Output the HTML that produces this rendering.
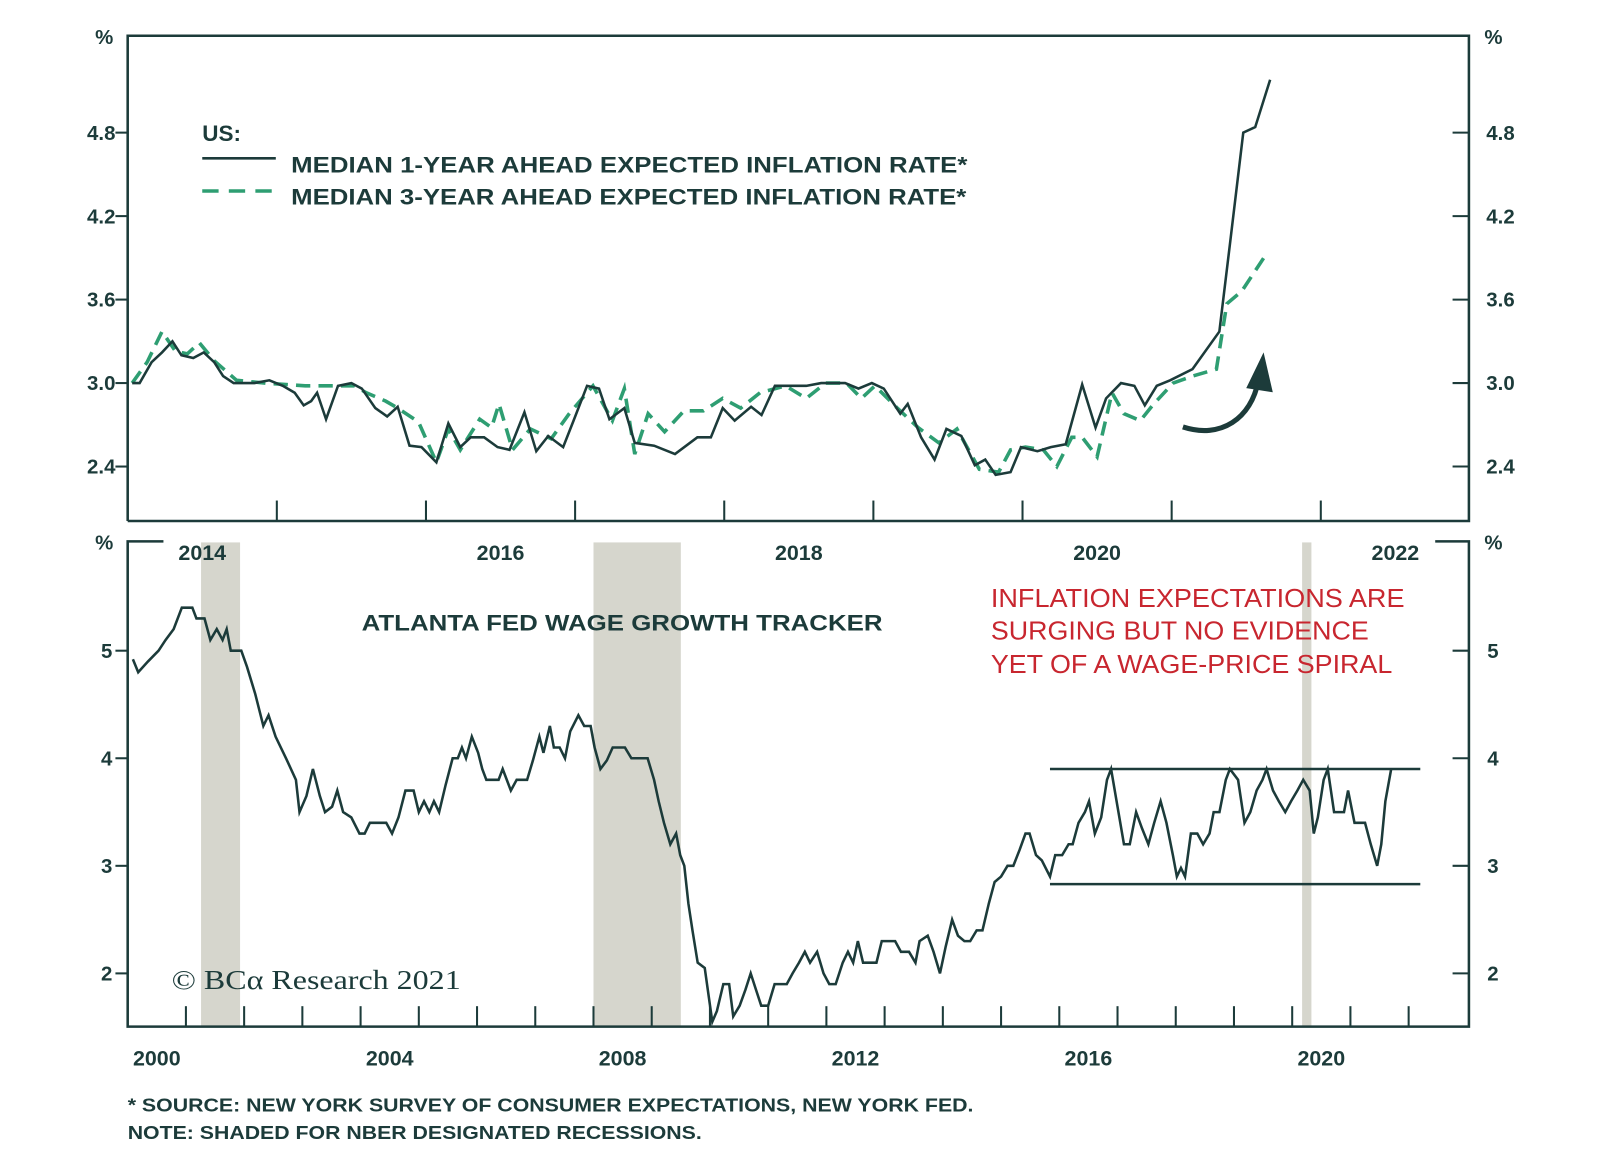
<!DOCTYPE html>
<html><head><meta charset="utf-8"><style>
html,body{margin:0;padding:0;background:#fff;}
svg{display:block;font-family:"Liberation Sans",Arial,sans-serif;font-weight:bold;}
</style></head><body>
<svg id="chart" width="1600" height="1174" viewBox="0 0 1600 1174" xmlns="http://www.w3.org/2000/svg">
<g transform="scale(1.0215)">
<g id="botg"></g>
<g id="topg"></g>
<g id="anng"></g>
</g>
</svg>
<script>
// ---- Top panel data ----
const oneYrDates=[2014.03,2014.08,2014.16,2014.23,2014.30,2014.36,2014.44,2014.51,2014.58,2014.64,2014.71,2014.85,2014.95,2015.04,2015.12,2015.18,2015.23,2015.27,2015.33,2015.41,2015.50,2015.57,2015.66,2015.74,2015.81,2015.89,2015.97,2016.07,2016.15,2016.23,2016.30,2016.39,2016.48,2016.56,2016.66,2016.74,2016.82,2016.92,2016.99,2017.08,2017.16,2017.23,2017.33,2017.40,2017.53,2017.67,2017.82,2017.91,2017.99,2018.07,2018.18,2018.25,2018.34,2018.45,2018.55,2018.65,2018.81,2018.90,2018.99,2019.07,2019.18,2019.23,2019.32,2019.41,2019.49,2019.59,2019.68,2019.75,2019.82,2019.92,2019.99,2020.10,2020.19,2020.29,2020.40,2020.49,2020.56,2020.66,2020.75,2020.82,2020.90,2020.99,2021.14,2021.32,2021.39,2021.48,2021.56,2021.66];
const oneYrValues=[3.0,3.0,3.15,3.22,3.3,3.2,3.18,3.22,3.15,3.05,3.0,3.0,3.02,2.98,2.93,2.84,2.87,2.93,2.74,2.98,3.0,2.96,2.82,2.76,2.83,2.55,2.54,2.43,2.71,2.54,2.61,2.61,2.54,2.52,2.79,2.51,2.62,2.54,2.73,2.98,2.96,2.74,2.82,2.57,2.55,2.49,2.61,2.61,2.82,2.73,2.83,2.77,2.98,2.98,2.98,3.0,3.0,2.96,3.0,2.96,2.78,2.85,2.61,2.45,2.67,2.62,2.41,2.45,2.34,2.36,2.54,2.51,2.54,2.56,2.99,2.68,2.89,3.0,2.98,2.84,2.98,3.02,3.1,3.37,3.99,4.8,4.84,5.18];
const threeYrDates=[2014.03,2014.13,2014.23,2014.32,2014.40,2014.48,2014.58,2014.73,2014.92,2015.19,2015.32,2015.52,2015.60,2015.73,2015.81,2015.95,2016.07,2016.15,2016.23,2016.36,2016.44,2016.49,2016.58,2016.70,2016.84,2016.96,2017.12,2017.25,2017.33,2017.40,2017.49,2017.60,2017.73,2017.86,2017.99,2018.11,2018.24,2018.41,2018.55,2018.68,2018.82,2018.92,2019.01,2019.16,2019.30,2019.44,2019.56,2019.71,2019.84,2019.92,2020.02,2020.14,2020.23,2020.33,2020.40,2020.50,2020.60,2020.68,2020.79,2020.88,2021.01,2021.14,2021.30,2021.37,2021.47,2021.55,2021.63];
const threeYrValues=[3.0,3.15,3.37,3.23,3.21,3.29,3.16,3.02,3.0,2.98,2.98,2.98,2.93,2.87,2.82,2.72,2.43,2.67,2.52,2.74,2.68,2.85,2.52,2.67,2.6,2.78,2.98,2.73,2.96,2.49,2.78,2.65,2.8,2.8,2.89,2.82,2.93,2.98,2.89,3.0,3.0,2.89,2.98,2.82,2.68,2.57,2.67,2.38,2.36,2.52,2.54,2.52,2.4,2.61,2.61,2.47,2.93,2.78,2.73,2.85,3.0,3.05,3.1,3.57,3.66,3.79,3.92];
const topYTicks=[2.4,3.0,3.6,4.2,4.8];
const topYLabels=["2.4","3.0","3.6","4.2","4.8"];
const topXLabels=["2014","2016","2018","2020","2022"];
// ---- Bottom panel data ----
const wageDates=[2000.09,2000.18,2000.35,2000.53,2000.65,2000.79,2000.93,2001.11,2001.18,2001.32,2001.42,2001.53,2001.63,2001.70,2001.77,2001.95,2002.05,2002.19,2002.33,2002.42,2002.54,2002.72,2002.89,2002.95,2003.07,2003.18,2003.30,2003.39,2003.51,2003.60,2003.70,2003.84,2003.98,2004.07,2004.16,2004.44,2004.54,2004.65,2004.77,2004.91,2005.00,2005.09,2005.18,2005.26,2005.35,2005.46,2005.58,2005.67,2005.74,2005.81,2005.91,2006.02,2006.09,2006.16,2006.37,2006.44,2006.58,2006.68,2006.86,2006.96,2007.07,2007.14,2007.25,2007.32,2007.42,2007.51,2007.60,2007.74,2007.84,2007.95,2008.02,2008.12,2008.23,2008.33,2008.54,2008.65,2008.93,2009.04,2009.12,2009.21,2009.32,2009.42,2009.49,2009.56,2009.63,2009.70,2009.79,2009.91,2010.04,2010.12,2010.23,2010.33,2010.40,2010.51,2010.61,2010.70,2010.79,2010.88,2011.00,2011.11,2011.32,2011.42,2011.53,2011.63,2011.72,2011.84,2011.95,2012.05,2012.16,2012.28,2012.37,2012.46,2012.54,2012.63,2012.86,2012.95,2013.18,2013.28,2013.42,2013.53,2013.60,2013.74,2013.84,2013.95,2014.05,2014.16,2014.26,2014.37,2014.47,2014.58,2014.68,2014.79,2014.89,2015.00,2015.11,2015.21,2015.32,2015.42,2015.49,2015.60,2015.70,2015.84,2015.93,2016.05,2016.16,2016.23,2016.33,2016.44,2016.51,2016.61,2016.72,2016.82,2016.89,2017.00,2017.11,2017.21,2017.32,2017.42,2017.53,2017.63,2017.74,2017.84,2017.95,2018.02,2018.09,2018.16,2018.26,2018.37,2018.47,2018.58,2018.65,2018.75,2018.86,2018.93,2019.07,2019.18,2019.28,2019.39,2019.49,2019.56,2019.67,2019.77,2019.88,2019.98,2020.09,2020.19,2020.30,2020.37,2020.44,2020.54,2020.61,2020.72,2020.89,2020.96,2021.07,2021.25,2021.35,2021.46,2021.53,2021.60,2021.70];
const wageValues=[4.92,4.8,4.9,5.0,5.1,5.2,5.4,5.4,5.3,5.3,5.1,5.2,5.1,5.2,5.0,5.0,4.85,4.6,4.3,4.4,4.2,4.0,3.8,3.5,3.65,3.9,3.65,3.5,3.55,3.7,3.5,3.45,3.3,3.3,3.4,3.4,3.3,3.45,3.7,3.7,3.5,3.6,3.5,3.6,3.5,3.75,4.0,4.0,4.1,4.0,4.2,4.05,3.9,3.8,3.8,3.9,3.7,3.8,3.8,3.98,4.2,4.05,4.3,4.1,4.1,4.0,4.25,4.4,4.3,4.3,4.1,3.9,3.98,4.1,4.1,4.0,4.0,3.8,3.6,3.4,3.2,3.3,3.1,3.0,2.65,2.4,2.1,2.05,1.55,1.65,1.9,1.9,1.6,1.7,1.85,2.0,1.85,1.7,1.7,1.9,1.9,2.0,2.1,2.2,2.1,2.2,2.0,1.9,1.9,2.1,2.2,2.1,2.3,2.1,2.1,2.3,2.3,2.2,2.2,2.1,2.3,2.35,2.2,2.0,2.25,2.5,2.35,2.3,2.3,2.4,2.4,2.65,2.85,2.9,3.0,3.0,3.15,3.3,3.3,3.1,3.05,2.9,3.1,3.1,3.2,3.2,3.4,3.5,3.6,3.3,3.45,3.8,3.9,3.55,3.2,3.2,3.5,3.35,3.2,3.4,3.6,3.4,3.1,2.9,2.98,2.9,3.3,3.3,3.2,3.3,3.5,3.5,3.8,3.9,3.8,3.4,3.5,3.7,3.8,3.9,3.7,3.6,3.5,3.6,3.7,3.8,3.7,3.3,3.45,3.8,3.9,3.5,3.5,3.7,3.4,3.4,3.2,3.0,3.2,3.6,3.9];
const botYTicks=[2,3,4,5];
const botYLabels=["2","3","4","5"];
const botXLabels=["2000","2004","2008","2012","2016","2020"];
const recessionStarts=[2001.26,2008.0,2020.17];
const recessionEnds=[2001.93,2009.5,2020.33];
const rangeHigh=3.9, rangeLow=2.83, rangeStart=2015.84, rangeEnd=2022.2;

const NS="http://www.w3.org/2000/svg";
const C="#1c3b3a", G="#2e9e72";
function mk(parent,tag,attrs){const e=document.createElementNS(NS,tag);for(const k in attrs)e.setAttribute(k,attrs[k]);parent.appendChild(e);return e;}
const L=125,R=1438;
const tx=y=>L+(y-2014)*146, ty=v=>375-(v-3.0)*136.2;
const bx=y=>L+(y-2000)*57, by=v=>637-(v-5)*105.3;

const topG=document.getElementById('topg'), botG=document.getElementById('botg'), annG=document.getElementById('anng');

for(let i=0;i<recessionStarts.length;i++){
  const r=mk(botG,'rect',{x:bx(recessionStarts[i]),y:531,width:bx(recessionEnds[i])-bx(recessionStarts[i]),height:474,fill:"#d6d6cd"});
  
  
}

let f=mk(topG,'path',{d:`M${L},510 V35 H${R} V510 H${L}`,fill:"none",stroke:C,"stroke-width":2.5});


topYTicks.forEach((v,i)=>{
  const y=ty(v);
  let t=mk(topG,'line',{x1:L-12,x2:L,y1:y,y2:y,stroke:C,"stroke-width":2});
  
  
  t=mk(topG,'line',{x1:R-16,x2:R,y1:y,y2:y,stroke:C,"stroke-width":2});
  
  
  let l=mk(topG,'text',{x:113,y:y+7,"text-anchor":"end","font-size":20,fill:C});l.textContent=topYLabels[i];
  
  
  l=mk(topG,'text',{x:1455,y:y+7,"font-size":20,fill:C});l.textContent=topYLabels[i];
  
  
});
for(let yr=2015;yr<=2022;yr++){
  const t=mk(topG,'line',{x1:tx(yr),x2:tx(yr),y1:490,y2:510,stroke:C,"stroke-width":2});
  
  
}
topXLabels.forEach(s=>{
  const l=mk(topG,'text',{x:tx(+s+0.5),y:548,"text-anchor":"middle","font-size":21,fill:C});l.textContent=s;
  
  
});
let p=mk(topG,'text',{x:102,y:43,"text-anchor":"middle","font-size":20,fill:C});p.textContent="%";


p=mk(topG,'text',{x:1462,y:43,"text-anchor":"middle","font-size":20,fill:C});p.textContent="%";



let d3=threeYrDates.map((d,i)=>(i?'L':'M')+tx(d).toFixed(1)+','+ty(threeYrValues[i]).toFixed(1)).join('');
let s=mk(topG,'path',{d:d3,fill:"none",stroke:G,"stroke-width":3.5,"stroke-dasharray":"14,8"});


let d1=oneYrDates.map((d,i)=>(i?'L':'M')+tx(d).toFixed(1)+','+ty(oneYrValues[i]).toFixed(1)).join('');
s=mk(topG,'path',{d:d1,fill:"none",stroke:C,"stroke-width":2.5});



let lg=mk(topG,'g',{});


let t=mk(lg,'text',{x:198,y:138,"font-size":22,fill:C});t.textContent="US:";


t=mk(lg,'line',{x1:198,x2:270,y1:155,y2:155,stroke:C,"stroke-width":2.5});


t=mk(lg,'text',{x:285,y:169,"font-size":22,fill:C,textLength:662,lengthAdjust:"spacingAndGlyphs"});t.textContent="MEDIAN 1-YEAR AHEAD EXPECTED INFLATION RATE*";


t=mk(lg,'line',{x1:198,x2:272,y1:187,y2:187,stroke:G,"stroke-width":3.5,"stroke-dasharray":"16,10"});


t=mk(lg,'text',{x:285,y:200,"font-size":22,fill:C,textLength:661,lengthAdjust:"spacingAndGlyphs"});t.textContent="MEDIAN 3-YEAR AHEAD EXPECTED INFLATION RATE*";



t=mk(annG,'path',{d:"M1158,418 C1195,430 1225,410 1232,372",fill:"none",stroke:C,"stroke-width":5});


t=mk(annG,'path',{d:"M1220,380 L1237,345 L1246,384 Z",fill:C});



f=mk(botG,'path',{d:`M160,530 H${L} V1005 H${R} V530 H1405`,fill:"none",stroke:C,"stroke-width":2.5});


botYTicks.forEach((v,i)=>{
  const y=by(v);
  let tk=mk(botG,'line',{x1:L-12,x2:L,y1:y,y2:y,stroke:C,"stroke-width":2});
  
  
  tk=mk(botG,'line',{x1:R-16,x2:R,y1:y,y2:y,stroke:C,"stroke-width":2});
  
  
  let l=mk(botG,'text',{x:110,y:y+7,"text-anchor":"end","font-size":20,fill:C});l.textContent=botYLabels[i];
  
  
  l=mk(botG,'text',{x:1456,y:y+7,"font-size":20,fill:C});l.textContent=botYLabels[i];
  
  
});
for(let yr=2001;yr<=2022;yr++){
  const tk=mk(botG,'line',{x1:bx(yr),x2:bx(yr),y1:985,y2:1005,stroke:C,"stroke-width":2});
  
  
}
botXLabels.forEach(sv=>{
  const l=mk(botG,'text',{x:bx(+sv+0.5),y:1043,"text-anchor":"middle","font-size":21,fill:C});l.textContent=sv;
  
  
});
p=mk(botG,'text',{x:102,y:538,"text-anchor":"middle","font-size":20,fill:C});p.textContent="%";


p=mk(botG,'text',{x:1462,y:538,"text-anchor":"middle","font-size":20,fill:C});p.textContent="%";



[rangeHigh,rangeLow].forEach(v=>{
  const ln=mk(botG,'line',{x1:bx(rangeStart),x2:bx(rangeEnd),y1:by(v),y2:by(v),stroke:C,"stroke-width":2.5});
  
  
});
let dw=wageDates.map((d,i)=>(i?'L':'M')+bx(d).toFixed(1)+','+by(wageValues[i]).toFixed(1)).join('');
s=mk(botG,'path',{d:dw,fill:"none",stroke:C,"stroke-width":2.5});



t=mk(botG,'text',{x:354,y:617,"font-size":22,fill:C,textLength:510,lengthAdjust:"spacingAndGlyphs"});t.textContent="ATLANTA FED WAGE GROWTH TRACKER";


[["INFLATION EXPECTATIONS ARE",594,405],["SURGING BUT NO EVIDENCE",626,370],["YET OF A WAGE-PRICE SPIRAL",659,393]].forEach(a=>{
  const x=mk(annG,'text',{x:970,y:a[1],"font-size":25,"font-weight":"normal",fill:"#c8262f",textLength:a[2],lengthAdjust:"spacingAndGlyphs"});x.textContent=a[0];
  
  
});
t=mk(annG,'text',{x:168,y:968,"font-size":27,"font-weight":"normal","font-family":"Liberation Serif,serif",fill:C,textLength:283,lengthAdjust:"spacingAndGlyphs"});t.textContent="© BCα Research 2021";


t=mk(annG,'text',{x:125,y:1088,"font-size":18,fill:C,textLength:828,lengthAdjust:"spacingAndGlyphs"});t.textContent="* SOURCE: NEW YORK SURVEY OF CONSUMER EXPECTATIONS, NEW YORK FED.";


t=mk(annG,'text',{x:125,y:1115,"font-size":18,fill:C,textLength:562,lengthAdjust:"spacingAndGlyphs"});t.textContent="NOTE: SHADED FOR NBER DESIGNATED RECESSIONS.";


</script>
</body></html>
